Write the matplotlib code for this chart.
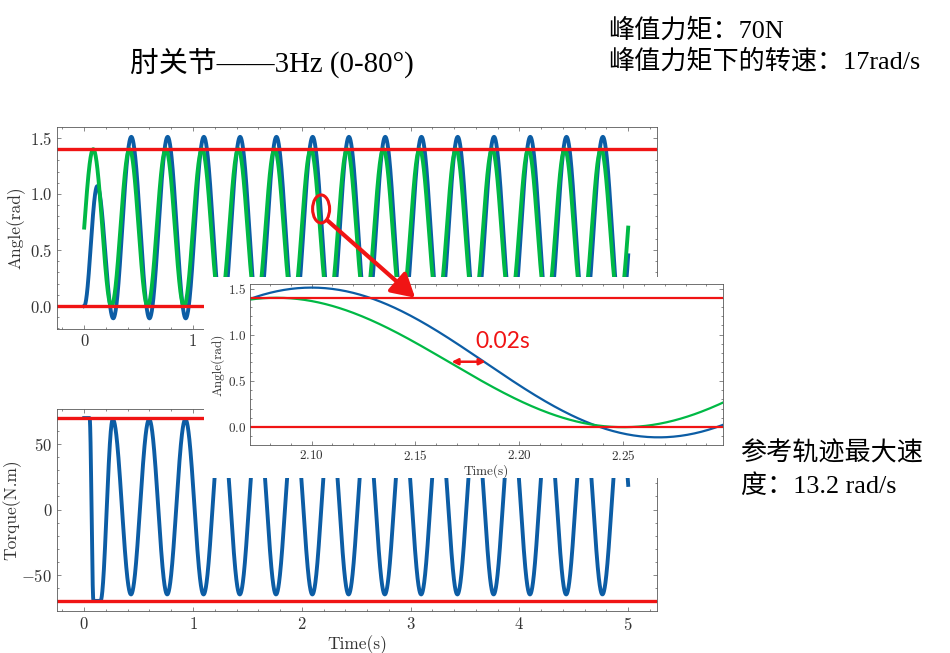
import numpy as np
import matplotlib
matplotlib.use("Agg")
import matplotlib.pyplot as plt
from matplotlib.ticker import MultipleLocator
from matplotlib.patches import Rectangle, Ellipse, FancyArrowPatch


# reference trajectory (green): extremes, rad
ref_peak_t = [0.083, 0.417, 0.750, 1.083, 1.417, 1.750, 2.083, 2.417,
              2.750, 3.083, 3.417, 3.750, 4.083, 4.417, 4.750, 5.083]
ref_peak_v = [1.40, 1.40, 1.40, 1.40, 1.40, 1.40, 1.40, 1.40,
              1.40, 1.40, 1.40, 1.40, 1.40, 1.40, 1.40, 1.40]
ref_trough_t = [-0.083, 0.250, 0.583, 0.917, 1.250, 1.583, 1.917, 2.250,
                2.583, 2.917, 3.250, 3.583, 3.917, 4.250, 4.583, 4.917]
ref_trough_v = [0.00, 0.00, 0.00, 0.00, 0.00, 0.00, 0.00, 0.00,
                0.00, 0.00, 0.00, 0.00, 0.00, 0.00, 0.00, 0.00]

# measured joint angle (blue)
act_peak_t = [0.120, 0.433, 0.767, 1.100, 1.433, 1.767, 2.100, 2.433,
              2.767, 3.100, 3.433, 3.767, 4.100, 4.433, 4.767, 5.100]
act_peak_v = [1.07, 1.51, 1.51, 1.51, 1.51, 1.51, 1.51, 1.51,
              1.51, 1.51, 1.51, 1.51, 1.51, 1.51, 1.51, 1.51]
act_trough_t = [0.000, 0.267, 0.600, 0.933, 1.267, 1.600, 1.933, 2.267,
                2.600, 2.933, 3.267, 3.600, 3.933, 4.267, 4.600, 4.933]
act_trough_v = [0.00, -0.11, -0.11, -0.11, -0.11, -0.11, -0.11, -0.11,
                -0.11, -0.11, -0.11, -0.11, -0.11, -0.11, -0.11, -0.11]

# joint torque (blue, bottom panel), N.m
tau_high_t = [0.000, 0.050, 0.263, 0.597, 0.930, 1.263, 1.597, 1.930, 2.263,
              2.597, 2.930, 3.263, 3.597, 3.930, 4.263, 4.597, 4.930]
tau_high_v = [70, 70, 69, 69, 69, 69, 69, 69, 69,
              69, 69, 69, 69, 69, 69, 69, 69]
tau_low_t = [0.085, 0.150, 0.430, 0.763, 1.097, 1.430, 1.763, 2.097, 2.430,
             2.763, 3.097, 3.430, 3.763, 4.097, 4.430, 4.763, 5.097]
tau_low_v = [-70, -70, -65, -65, -65, -65, -65, -65, -65,
             -65, -65, -65, -65, -65, -65, -65, -65]

angle_limits = [0.0, 1.4]
torque_limits = [-70, 70]
time_ticks = [0, 1, 2, 3, 4, 5]
top_time_labels = ["0", "1", "", "", "", ""]   # the rest sit under the zoom panel
T_END = 5.0

BLUE = "#0C5DA5"
GREEN = "#00B945"
RED = "#f01414"
CJK = ["Liberation Serif", "Noto Sans CJK SC"]


def through_extremes(t_hi, v_hi, t_lo, v_lo, t):
    """Half-cosine segments between consecutive extremes."""
    te = np.array(t_hi + t_lo, dtype=float)
    ve = np.array(v_hi + v_lo, dtype=float)
    order = np.argsort(te)
    te, ve = te[order], ve[order]
    i = np.clip(np.searchsorted(te, t, side="right") - 1, 0, len(te) - 2)
    f = (t - te[i]) / (te[i + 1] - te[i])
    return ve[i] + (ve[i + 1] - ve[i]) * (1 - np.cos(np.pi * f)) / 2


t = np.linspace(0, T_END, 6001)
ref = through_extremes(ref_peak_t, ref_peak_v, ref_trough_t, ref_trough_v, t)
act = through_extremes(act_peak_t, act_peak_v, act_trough_t, act_trough_v, t)
tau = through_extremes(tau_high_t, tau_high_v, tau_low_t, tau_low_v, t)

plt.rcParams.update({
    "font.family": "cmr10",
    "mathtext.fontset": "cm",
    "axes.formatter.use_mathtext": True,
    "axes.linewidth": 0.6,
    "axes.edgecolor": "0.35",
    "xtick.direction": "in", "ytick.direction": "in",
    "xtick.top": True, "ytick.right": True,
    "xtick.major.size": 3, "ytick.major.size": 3,
    "xtick.minor.size": 1.5, "ytick.minor.size": 1.5,
    "xtick.major.width": 0.5, "ytick.major.width": 0.5,
    "xtick.minor.width": 0.5, "ytick.minor.width": 0.5,
    "xtick.color": "0.35", "ytick.color": "0.35",
    "xtick.labelcolor": "0.2", "ytick.labelcolor": "0.2",
    "xtick.minor.visible": True, "ytick.minor.visible": True,
})

fig = plt.figure(figsize=(9.5, 6.53), dpi=100)

ax_top = fig.add_axes([0.060, 0.4962, 0.6316, 0.3093])
ax_bot = fig.add_axes([0.060, 0.0643, 0.6316, 0.3093])
ax_in = fig.add_axes([0.2632, 0.3185, 0.4979, 0.2466], zorder=3)

# top: angle tracking
ax_top.plot(t, act, color=BLUE, lw=2.8)
ax_top.plot(t, ref, color=GREEN, lw=2.8)
for v in angle_limits:
    ax_top.axhline(v, color=RED, lw=2.4)
ax_top.set_xlim(-0.25, 5.265)
ax_top.set_ylim(-0.205, 1.598)
ax_top.yaxis.set_major_locator(MultipleLocator(0.5))
ax_top.set_xticks(time_ticks, labels=top_time_labels)
ax_top.set_ylabel("Angle(rad)", fontsize=12.5, color="0.2", labelpad=3)

# bottom: torque
ax_bot.plot(t, tau, color=BLUE, lw=2.8)
for v in torque_limits:
    ax_bot.axhline(v, color=RED, lw=2.4)
ax_bot.set_xlim(-0.25, 5.265)
ax_bot.set_ylim(-77.7, 76.9)
ax_bot.yaxis.set_major_locator(MultipleLocator(50))
ax_bot.set_xticks(time_ticks)
ax_bot.set_xlabel("Time(s)", fontsize=12.5, color="0.2", labelpad=2)
ax_bot.set_ylabel("Torque(N.m)", fontsize=12.5, color="0.2", labelpad=0)

for ax in (ax_top, ax_bot):
    ax.tick_params(labelsize=12)

# white backing of the pasted zoom panel
fig.add_artist(Rectangle((0.2147, 0.268), 0.5537, 0.308,
                         transform=fig.transFigure, facecolor="white",
                         edgecolor="none", zorder=2))

# inset: zoom around t = 2.1 s
ax_in.plot(t, act, color=BLUE, lw=1.6)
ax_in.plot(t, ref, color=GREEN, lw=1.6)
for v in angle_limits:
    ax_in.axhline(v, color=RED, lw=1.6)
ax_in.set_xlim(2.0704, 2.298)
ax_in.set_ylim(-0.193, 1.549)
ax_in.xaxis.set_major_locator(MultipleLocator(0.05))
ax_in.yaxis.set_major_locator(MultipleLocator(0.5))
ax_in.tick_params(labelsize=9.5, pad=3)
ax_in.set_xlabel("Time(s)", fontsize=9.5, color="0.2", labelpad=1)
ax_in.set_ylabel("Angle(rad)", fontsize=9.5, color="0.2", labelpad=2)
ax_in.annotate("", xy=(2.1837, 0.708), xytext=(2.1674, 0.708),
               arrowprops=dict(arrowstyle="<|-|>", color=RED, lw=1.8,
                               mutation_scale=9, shrinkA=0, shrinkB=0))

# callouts
fig.add_artist(Ellipse((0.338, 0.680), 0.0179, 0.0429,
                       transform=fig.transFigure, fill=False,
                       edgecolor=RED, lw=2.2, zorder=5))
fig.add_artist(FancyArrowPatch((0.345, 0.662), (0.437, 0.544),
                               transform=fig.transFigure,
                               arrowstyle="-|>,head_length=0.7,head_width=0.4",
                               mutation_scale=20, lw=3, color=RED,
                               shrinkA=0, shrinkB=0, zorder=5))
fig.text(0.500, 1 - 341 / 653, "0.02s", color=RED, fontsize=16.5,
         family="Lato", ha="left", va="center", zorder=6)

# titles and notes
fig.text(130 / 950, 1 - 63 / 653, "肘关节——3Hz (0-80°)", family=CJK,
         fontsize=20.8, ha="left", va="center")
fig.text(608 / 950, 1 - 30 / 653, "峰值力矩：70N", family=CJK,
         fontsize=18.8, ha="left", va="center")
fig.text(608 / 950, 1 - 61 / 653, "峰值力矩下的转速：17rad/s", family=CJK,
         fontsize=18.8, ha="left", va="center")
fig.text(741 / 950, 1 - 453 / 653, "参考轨迹最大速", family=CJK,
         fontsize=18.8, ha="left", va="center")
fig.text(741 / 950, 1 - 486 / 653, "度：13.2 rad/s", family=CJK,
         fontsize=18.8, ha="left", va="center")

fig.savefig("out.png", dpi=100)
